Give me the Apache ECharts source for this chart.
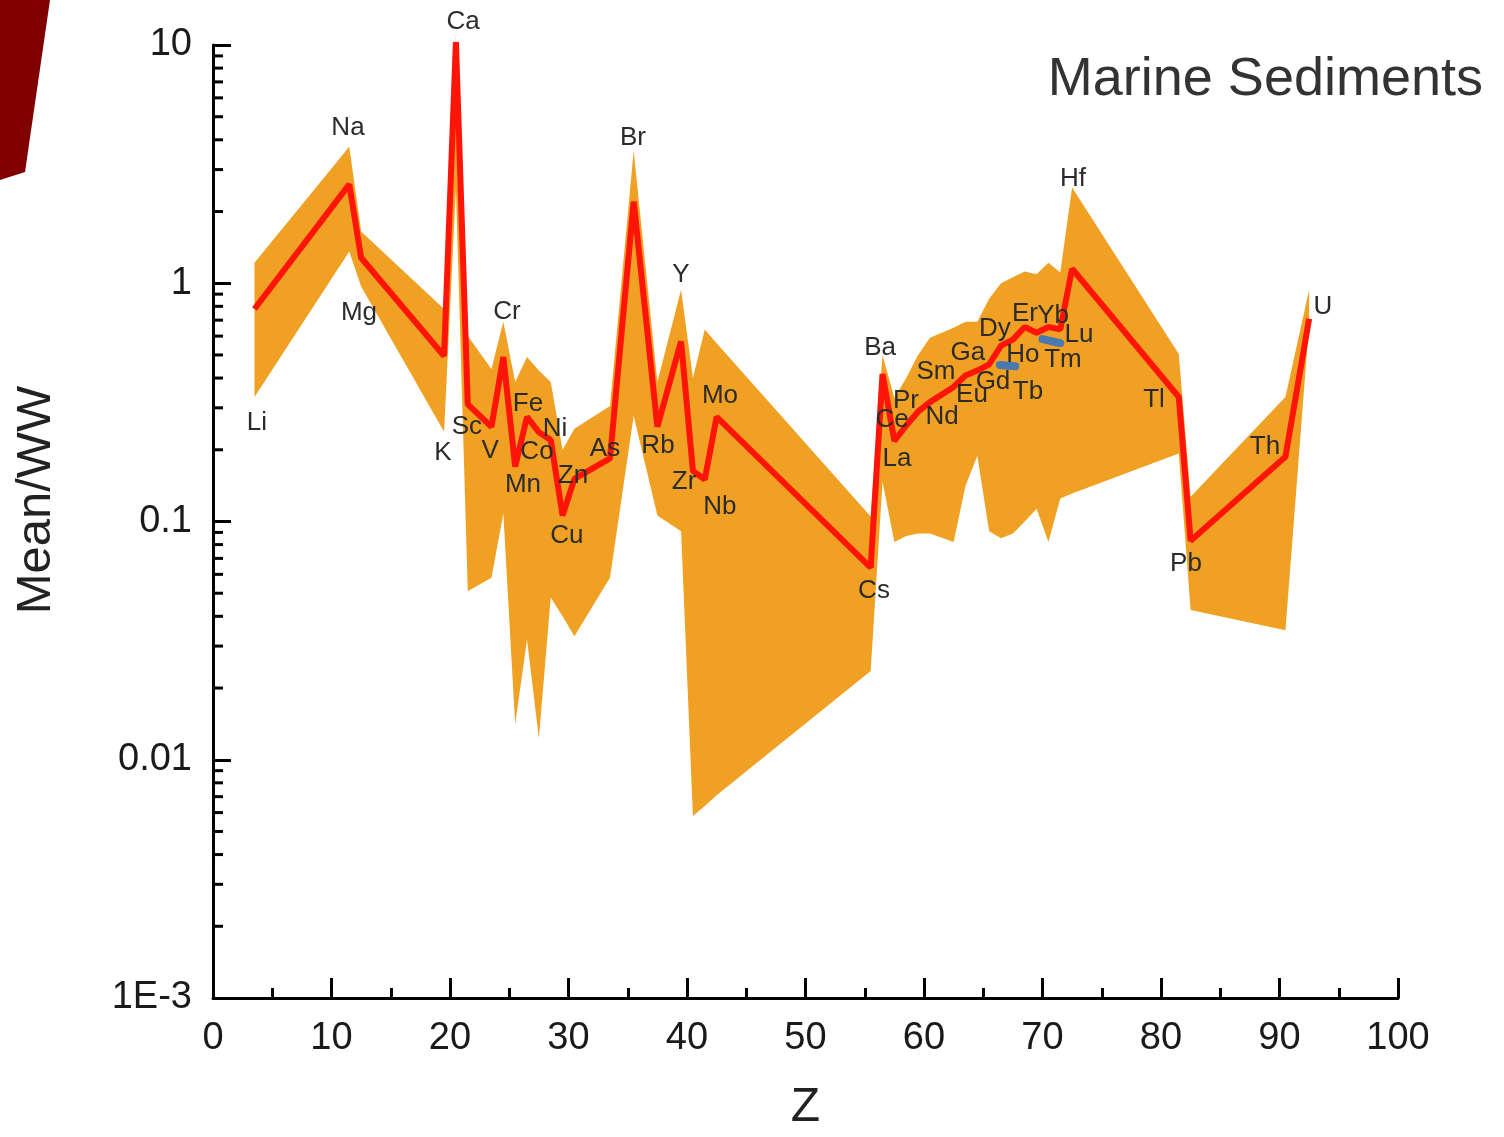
<!DOCTYPE html>
<html>
<head>
<meta charset="utf-8">
<script src="https://cdn.jsdelivr.net/npm/echarts@6/dist/echarts.min.js"></script>
<style>
  html, body { margin: 0; padding: 0; background: #fff; }
  #main { width: 1504px; height: 1137px; }
</style>
</head>
<body>
<div id="main"></div>
<script>
// element, plotted position (Z as drawn), mean and band limits (Mean/WW)
var elements = ['Li','Na','Mg','K','Ca','Sc','V','Cr','Mn','Fe','Co','Ni','Cu','Zn','As','Br','Rb','Y','Zr','Nb','Mo',
                'Cs','Ba','La','Ce','Pr','Nd','Sm','Eu','Gd','Tb','Dy','Ho','Er','Tm','Yb','Lu','Hf','Tl','Pb','Th','U'];
var zPos = [3.5, 11.5, 12.5, 19.5, 20.5, 21.5, 23.5, 24.5, 25.5, 26.5, 27.5, 28.5, 29.5, 30.5, 33.5, 35.5, 37.5, 39.5, 40.5, 41.5, 42.5,
            55.5, 56.5, 57.5, 58.5, 59.5, 60.5, 62.5, 63.5, 64.5, 65.5, 66.5, 67.5, 68.5, 69.5, 70.5, 71.5, 72.5, 81.5, 82.5, 90.5, 92.5];
var meanVals = [0.78, 2.6, 1.28, 0.495, 10.3, 0.31, 0.25, 0.49, 0.17, 0.275, 0.237, 0.22, 0.106, 0.151, 0.184, 2.2, 0.25, 0.57, 0.163, 0.15, 0.275,
                0.064, 0.416, 0.218, 0.253, 0.289, 0.317, 0.367, 0.41, 0.43, 0.457, 0.547, 0.58, 0.655, 0.62, 0.655, 0.64, 1.15, 0.333, 0.083, 0.187, 0.71];
var upperVals = [1.22, 3.74, 1.65, 0.78, 11, 0.6, 0.437, 0.69, 0.385, 0.49, 0.43, 0.385, 0.2, 0.245, 0.305, 3.6, 0.385, 0.94, 0.4, 0.64, 0.56,
                 0.105, 0.5, 0.33, 0.4, 0.5, 0.59, 0.65, 0.69, 0.69, 0.86, 1.0, 1.06, 1.12, 1.09, 1.22, 1.11, 2.52, 0.505, 0.127, 0.333, 0.94];
var lowerVals = [0.333, 1.36, 0.97, 0.238, 2.5, 0.051, 0.058, 0.108, 0.0141, 0.032, 0.0123, 0.048, 0.04, 0.033, 0.058, 0.278, 0.106, 0.091, 0.0058, 0.0064, 0.0071,
                 0.0236, 0.147, 0.082, 0.087, 0.089, 0.089, 0.082, 0.141, 0.189, 0.091, 0.085, 0.089, 0.1, 0.113, 0.082, 0.125, 0.131, 0.193, 0.0425, 0.035, 0.68];

// small blue pieces showing through near Ho and Lu
var blueA = [[66.4, 0.454], [67.7, 0.448]];
var blueB = [[70.0, 0.583], [71.5, 0.561]];

// element labels [name, x, y] in data units
var labelPos = [
  ['Ca', 21.1, 12.48], ['Na', 11.39, 4.49], ['Br', 35.44, 4.08], ['Hf', 72.57, 2.75], ['Y', 39.49, 1.09],
  ['Li', 3.71, 0.26], ['Mg', 12.32, 0.749], ['Cr', 24.81, 0.756], ['U', 93.67, 0.80], ['Ba', 56.29, 0.535],
  ['Er', 68.52, 0.742], ['Yb', 70.89, 0.727], ['Dy', 65.99, 0.642], ['Lu', 73.08, 0.606], ['Ga', 63.71, 0.509],
  ['Ho', 68.35, 0.5], ['Tm', 71.73, 0.476], ['Sm', 61.01, 0.424], ['Gd', 65.82, 0.385], ['Eu', 64.05, 0.34],
  ['Tb', 68.78, 0.35], ['Mo', 42.78, 0.337], ['Tl', 79.41, 0.324], ['Fe', 26.58, 0.312], ['Pr', 58.48, 0.321],
  ['Ce', 57.3, 0.267], ['Nd', 61.52, 0.275], ['Sc', 21.43, 0.25], ['Ni', 28.86, 0.245], ['K', 19.41, 0.194],
  ['V', 23.38, 0.198], ['Co', 27.34, 0.196], ['As', 33.08, 0.202], ['Rb', 37.55, 0.208], ['Th', 88.78, 0.206],
  ['La', 57.72, 0.1835], ['Zn', 30.38, 0.156], ['Mn', 26.16, 0.143], ['Zr', 39.75, 0.147], ['Nb', 42.78, 0.1155],
  ['Cu', 29.87, 0.0874], ['Pb', 82.11, 0.0667], ['Cs', 55.78, 0.051]
];

var yTickText = { '10': '10', '1': '1', '0.1': '0.1', '0.01': '0.01', '0.001': '1E-3' };
var minorMantissa = [2, 3, 4, 5, 6, 7, 8, 9];
var minorDecades = [0.001, 0.01, 0.1, 1];

var minorTicks = [];
minorDecades.forEach(function (d) {
  minorMantissa.forEach(function (m) { minorTicks.push([0, +(m * d).toPrecision(3)]); });
});

var FONT = '"Liberation Sans", Arial, sans-serif';
var ORANGE = '#F0A022';

var chart = echarts.init(document.getElementById('main'), null, { renderer: 'canvas' });

function renderBand(params, api) {
  if (params.dataIndex !== 0) return null;
  var pts = [];
  for (var i = 0; i < zPos.length; i++) pts.push(api.coord([zPos[i], upperVals[i]]));
  for (var j = zPos.length - 1; j >= 0; j--) pts.push(api.coord([zPos[j], lowerVals[j]]));
  return { type: 'polygon', shape: { points: pts }, style: { fill: ORANGE } };
}

function renderMinorTick(params, api) {
  var p = api.coord([api.value(0), api.value(1)]);
  return {
    type: 'line',
    shape: { x1: p[0], y1: p[1], x2: p[0] + 10, y2: p[1] },
    style: { stroke: '#000', lineWidth: 3 }
  };
}

// element names, drawn as plain text at their anchors
function renderLabel(params, api) {
  var p = api.coord([api.value(0), api.value(1)]);
  return {
    type: 'text', x: p[0], y: p[1],
    style: { text: labelPos[params.dataIndex][0], fontSize: 26, fill: '#2b2b2b', fontFamily: FONT, align: 'center', verticalAlign: 'middle' }
  };
}

chart.setOption({
  animation: false,
  backgroundColor: '#fff',
  grid: { left: 213, right: 106, top: 45, bottom: 136, containLabel: false },
  xAxis: {
    type: 'value', min: 0, max: 100, interval: 10,
    name: 'Z', nameLocation: 'middle', nameGap: 86,
    nameTextStyle: { fontSize: 48, color: '#222', fontFamily: FONT },
    axisLine: { lineStyle: { color: '#000', width: 3 } },
    axisTick: { inside: true, length: 20, lineStyle: { color: '#000', width: 3 } },
    minorTick: { show: true, splitNumber: 2, length: 10, lineStyle: { color: '#000', width: 3 } },
    splitLine: { show: false },
    axisLabel: { fontSize: 38, color: '#1a1a1a', margin: 22, fontFamily: FONT }
  },
  yAxis: {
    type: 'log', logBase: 10, min: 0.001, max: 10,
    axisLine: { show: true, lineStyle: { color: '#000', width: 3 } },
    axisTick: { show: true, inside: true, length: 18, lineStyle: { color: '#000', width: 3 } },
    splitLine: { show: false },
    axisLabel: {
      fontSize: 38, color: '#1a1a1a', margin: 21, fontFamily: FONT,
      formatter: function (v) { return yTickText[String(+v.toPrecision(3))] || ''; }
    }
  },
  graphic: [
    { type: 'polygon', shape: { points: [[0, 0], [50, 0], [25, 172], [0, 180]] }, style: { fill: '#800000' }, z: 10 },
    { type: 'text', x: 1483, y: 80, style: { text: 'Marine Sediments', fontSize: 54, fill: '#333', fontFamily: FONT, align: 'right', verticalAlign: 'middle' } },
    { type: 'text', x: 36, y: 500, rotation: Math.PI / 2, style: { text: 'Mean/WW', fontSize: 49, fill: '#222', fontFamily: FONT, align: 'center', verticalAlign: 'middle' } }
  ],
  series: [
    {
      type: 'custom', name: 'range', renderItem: renderBand, z: 1, silent: true,
      data: zPos.map(function (z, i) { return [z, lowerVals[i], upperVals[i]]; }),
      encode: { x: 0, y: [1, 2] }
    },
    {
      type: 'line', data: blueA, symbol: 'none', z: 2, silent: true,
      lineStyle: { color: '#4A78B0', width: 8, cap: 'round' }
    },
    {
      type: 'line', data: blueB, symbol: 'none', z: 2, silent: true,
      lineStyle: { color: '#4A78B0', width: 8, cap: 'round' }
    },
    {
      type: 'line', name: 'mean', z: 3, symbol: 'none', silent: true,
      data: zPos.map(function (z, i) { return [z, meanVals[i]]; }),
      lineStyle: { color: '#FF1408', width: 6 }
    },
    {
      type: 'custom', name: 'minorTicks', renderItem: renderMinorTick, z: 5, silent: true,
      data: minorTicks, encode: { x: 0, y: 1 }
    },
    {
      type: 'custom', name: 'labels', renderItem: renderLabel, z: 6, silent: true,
      data: labelPos.map(function (d) { return [d[1], d[2]]; }), encode: { x: 0, y: 1 }
    }
  ]
});
</script>
</body>
</html>
